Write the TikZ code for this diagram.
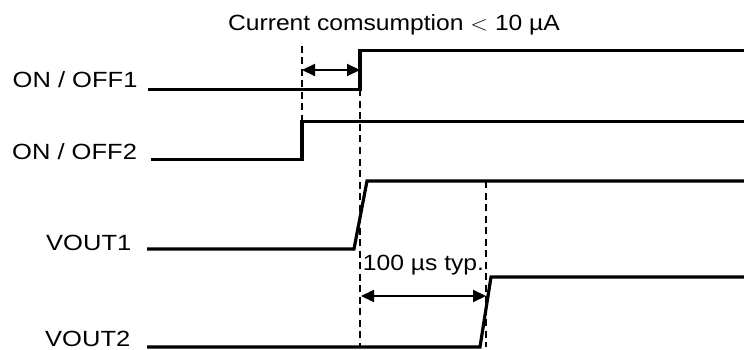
\documentclass[tikz,border=0pt]{standalone}
\usepackage{graphicx}
\usepackage{fontspec}
\setmainfont{Liberation Sans}
\usetikzlibrary{arrows.meta}
\newcommand\widetext[1]{\scalebox{1.12}[1]{#1}}
\newcommand\widelabel[1]{\scalebox{1.16}[1]{#1}}
\begin{document}
\begin{tikzpicture}[x=1pt,y=-1pt,
  sig/.style={line width=3.2pt, line join=miter},
  guide/.style={line width=1.3pt, dash pattern=on 7pt off 4.5pt},
  dimarrow/.style={line width=2pt, {Triangle[length=13pt,width=12pt]}-{Triangle[length=13pt,width=12pt]}},
  lab/.style={font=\fontsize{22}{26}\selectfont, inner sep=0pt, anchor=base west},
  ttl/.style={font=\fontsize{22}{26}\selectfont, inner sep=0pt, anchor=base}]
\useasboundingbox (0,0) rectangle (744,350);
% labels
\node[ttl] (title) at (394,31) {\widetext{Current comsumption $<$ 10 µA}};
\node[lab] (l1) at (12.5,88) {\widelabel{ON / OFF1}};
\node[lab] (l2) at (12,159) {\widelabel{ON / OFF2}};
\node[lab] (l3) at (46,250) {\widelabel{VOUT1}};
\node[lab] (l4) at (45,346) {\widelabel{VOUT2}};
\node[ttl] (typ) at (423.5,270) {\widetext{100 µs typ.}};
% signal points
\coordinate (a0) at (148,89.5);  \coordinate (a1) at (360,89.5);
\coordinate (a2) at (360,50.5);  \coordinate (a3) at (744,50.5);
\coordinate (b0) at (151,159.5); \coordinate (b1) at (302,159.5);
\coordinate (b2) at (302,121.5); \coordinate (b3) at (744,121.5);
\coordinate (c0) at (147,249);   \coordinate (c1) at (354,249);
\coordinate (c2) at (367,181);   \coordinate (c3) at (744,181);
\coordinate (d0) at (147,347);   \coordinate (d1) at (480,347);
\coordinate (d2) at (491,277);   \coordinate (d3) at (744,277);
% guides
\coordinate (g1t) at (302,46);
\coordinate (g2b) at (360,347);
\coordinate (g3t) at (486,181); \coordinate (g3b) at (486,347);
\draw[guide] (g1t) -- (b2);
\draw[guide] (a1) -- (g2b);
\draw[guide] (g3t) -- (g3b);
% signals
\draw[sig] (a0) -- (a1) -- (a2) -- (a3);
\draw[sig] (b0) -- (b1) -- (b2) -- (b3);
\draw[sig] (c0) -- (c1) -- (c2) -- (c3);
\draw[sig] (d0) -- (d1) -- (d2) -- (d3);
% dimension arrows
\coordinate (m1l) at (302,70); \coordinate (m1r) at (360,70);
\coordinate (m2l) at (361,296); \coordinate (m2r) at (486,296);
\draw[dimarrow] (m1l) -- (m1r);
\draw[dimarrow] (m2l) -- (m2r);
\end{tikzpicture}
\end{document}
